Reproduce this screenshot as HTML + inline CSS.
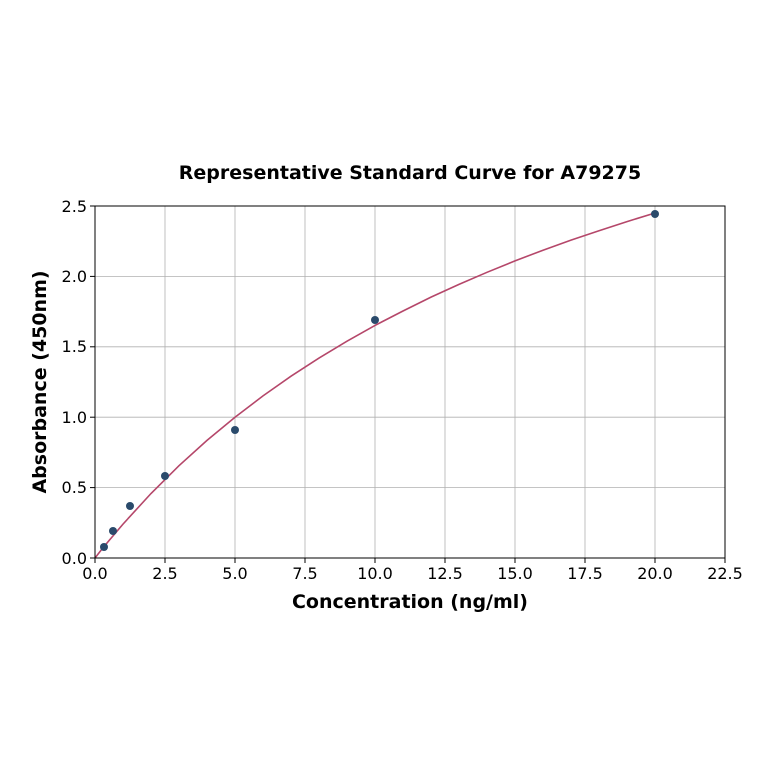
<!DOCTYPE html>
<html><head><style>body{margin:0;background:#fff}svg{display:block}text{font-family:"DejaVu Sans","Liberation Sans",sans-serif;fill:#000}</style></head>
<body>
<svg width="764" height="764" viewBox="0 0 764 764">
<rect width="764" height="764" fill="#fff"/>
<g stroke="#b0b0b0" stroke-width="0.8">
<line x1="95" y1="206" x2="95" y2="558"/><line x1="165" y1="206" x2="165" y2="558"/><line x1="235" y1="206" x2="235" y2="558"/><line x1="305" y1="206" x2="305" y2="558"/><line x1="375" y1="206" x2="375" y2="558"/><line x1="445" y1="206" x2="445" y2="558"/><line x1="515" y1="206" x2="515" y2="558"/><line x1="585" y1="206" x2="585" y2="558"/><line x1="655" y1="206" x2="655" y2="558"/>
<line x1="95" y1="487.6" x2="725" y2="487.6"/><line x1="95" y1="417.2" x2="725" y2="417.2"/><line x1="95" y1="346.8" x2="725" y2="346.8"/><line x1="95" y1="276.4" x2="725" y2="276.4"/>
</g>
<polyline fill="none" stroke="#b5476a" stroke-width="1.6" points="95,558 102,549 109,540.6 123,524.1 151,493.5 179,465.7 207,440.4 235,417.2 263,395.9 291,376.2 319,358.1 347,341.2 375,325.4 403,311 431,297.1 459,284.4 487,272.3 515,260.9 543,250.2 571,240.1 599,230.7 627,221.6 655,213"/>
<g fill="#2a4a6b">
<circle cx="104" cy="547" r="4"/><circle cx="113" cy="531" r="4"/><circle cx="130" cy="506" r="4"/><circle cx="165" cy="476" r="4"/><circle cx="235" cy="430" r="4"/><circle cx="375" cy="320" r="4"/><circle cx="655" cy="214" r="4"/>
</g>
<rect x="95" y="206" width="630" height="352" fill="none" stroke="#000" stroke-width="1"/>
<g stroke="#000" stroke-width="1">
<line x1="95" y1="558" x2="95" y2="563"/><line x1="165" y1="558" x2="165" y2="563"/><line x1="235" y1="558" x2="235" y2="563"/><line x1="305" y1="558" x2="305" y2="563"/><line x1="375" y1="558" x2="375" y2="563"/><line x1="445" y1="558" x2="445" y2="563"/><line x1="515" y1="558" x2="515" y2="563"/><line x1="585" y1="558" x2="585" y2="563"/><line x1="655" y1="558" x2="655" y2="563"/><line x1="725" y1="558" x2="725" y2="563"/>
<line x1="90" y1="558" x2="95" y2="558"/><line x1="90" y1="487.6" x2="95" y2="487.6"/><line x1="90" y1="417.2" x2="95" y2="417.2"/><line x1="90" y1="346.8" x2="95" y2="346.8"/><line x1="90" y1="276.4" x2="95" y2="276.4"/><line x1="90" y1="206" x2="95" y2="206"/>
</g>
<g font-size="16" text-anchor="middle">
<text x="95" y="579">0.0</text><text x="165" y="579">2.5</text><text x="235" y="579">5.0</text><text x="305" y="579">7.5</text><text x="375" y="579">10.0</text><text x="445" y="579">12.5</text><text x="515" y="579">15.0</text><text x="585" y="579">17.5</text><text x="655" y="579">20.0</text><text x="725" y="579">22.5</text>
</g>
<g font-size="16" text-anchor="end">
<text x="87" y="564">0.0</text><text x="87" y="493">0.5</text><text x="87" y="423">1.0</text><text x="87" y="352">1.5</text><text x="87" y="282">2.0</text><text x="87" y="212">2.5</text>
</g>
<text x="410" y="179" font-size="19" font-weight="bold" text-anchor="middle">Representative Standard Curve for A79275</text>
<text x="410" y="608" font-size="19" font-weight="bold" text-anchor="middle">Concentration (ng/ml)</text>
<text transform="translate(46,382) rotate(-90)" font-size="19" font-weight="bold" text-anchor="middle">Absorbance (450nm)</text>
</svg>
</body></html>
